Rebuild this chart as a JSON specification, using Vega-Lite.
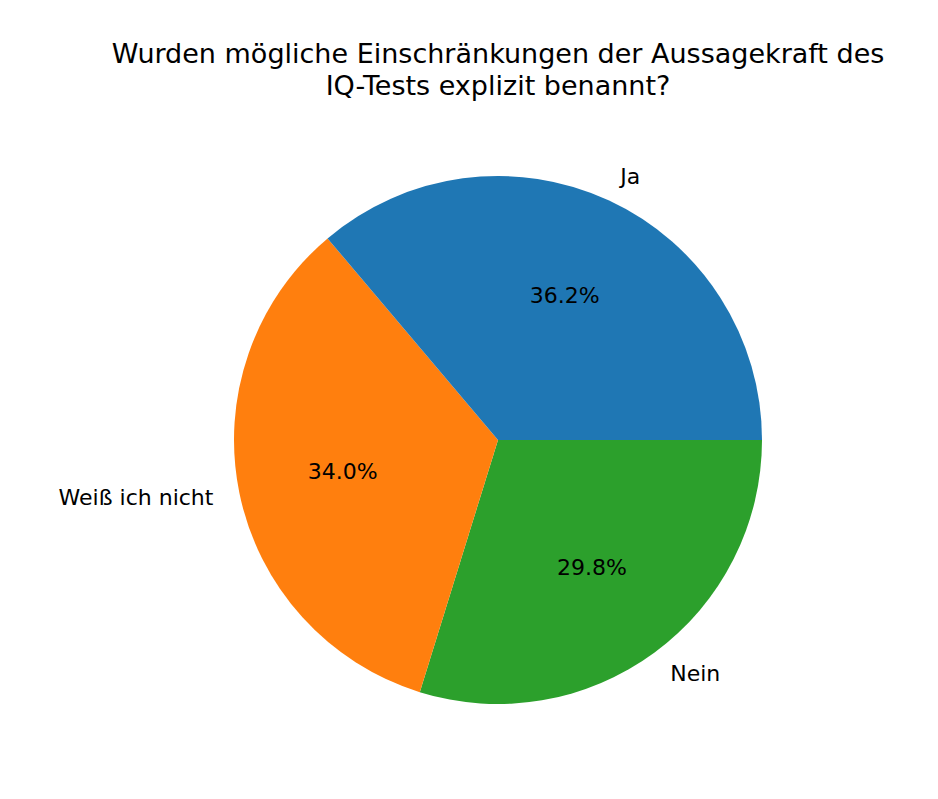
{
  "$schema": "https://vega.github.io/schema/vega-lite/v6.json",
  "autosize": "none",
  "width": 528,
  "height": 528,
  "padding": {"left": 234, "top": 176, "right": 176, "bottom": 95},
  "background": "white",
  "config": {"view": {"stroke": null}, "font": "DejaVu Sans"},
  "title": {
    "text": ["Wurden mögliche Einschränkungen der Aussagekraft des", "IQ-Tests explizit benannt?"],
    "font": "DejaVu Sans",
    "fontSize": 27,
    "fontWeight": "normal",
    "color": "black",
    "anchor": "middle",
    "lineHeight": 32,
    "offset": 65
  },
  "data": {
    "values": [
      {"label": "Nein", "n": 14, "pct": "29.8%", "o": 1, "side": "left"},
      {"label": "Weiß ich nicht", "n": 16, "pct": "34.0%", "o": 2, "side": "right"},
      {"label": "Ja", "n": 17, "pct": "36.2%", "o": 3, "side": "left"}
    ]
  },
  "layer": [
    {
      "mark": {"type": "arc", "strokeWidth": 0},
      "encoding": {
        "theta": {"field": "n", "type": "quantitative", "stack": true, "scale": {"range": [1.5707963, 7.8539816]}},
        "order": {"field": "o", "type": "quantitative"},
        "color": {
          "field": "label", "type": "nominal", "legend": null,
          "scale": {"domain": ["Ja", "Weiß ich nicht", "Nein"], "range": ["#1f77b4", "#ff7f0e", "#2ca02c"]}
        }
      }
    },
    {
      "mark": {"type": "text", "radius": 158.4, "fontSize": 22, "font": "DejaVu Sans", "color": "black", "align": "center", "baseline": "middle"},
      "encoding": {
        "theta": {"field": "n", "type": "quantitative", "stack": true, "scale": {"range": [1.5707963, 7.8539816]}},
        "order": {"field": "o", "type": "quantitative"},
        "text": {"field": "pct"}
      }
    },
    {
      "mark": {"type": "text", "radius": 290.4, "fontSize": 22, "font": "DejaVu Sans", "color": "black", "align": "left", "baseline": "middle"},
      "encoding": {
        "theta": {"field": "n", "type": "quantitative", "stack": true, "scale": {"range": [1.5707963, 7.8539816]}},
        "order": {"field": "o", "type": "quantitative"},
        "text": {"condition": {"test": "datum.side === 'left'", "field": "label"}, "value": ""}
      }
    },
    {
      "mark": {"type": "text", "radius": 290.4, "fontSize": 22, "font": "DejaVu Sans", "color": "black", "align": "right", "baseline": "middle"},
      "encoding": {
        "theta": {"field": "n", "type": "quantitative", "stack": true, "scale": {"range": [1.5707963, 7.8539816]}},
        "order": {"field": "o", "type": "quantitative"},
        "text": {"condition": {"test": "datum.side === 'right'", "field": "label"}, "value": ""}
      }
    }
  ]
}
